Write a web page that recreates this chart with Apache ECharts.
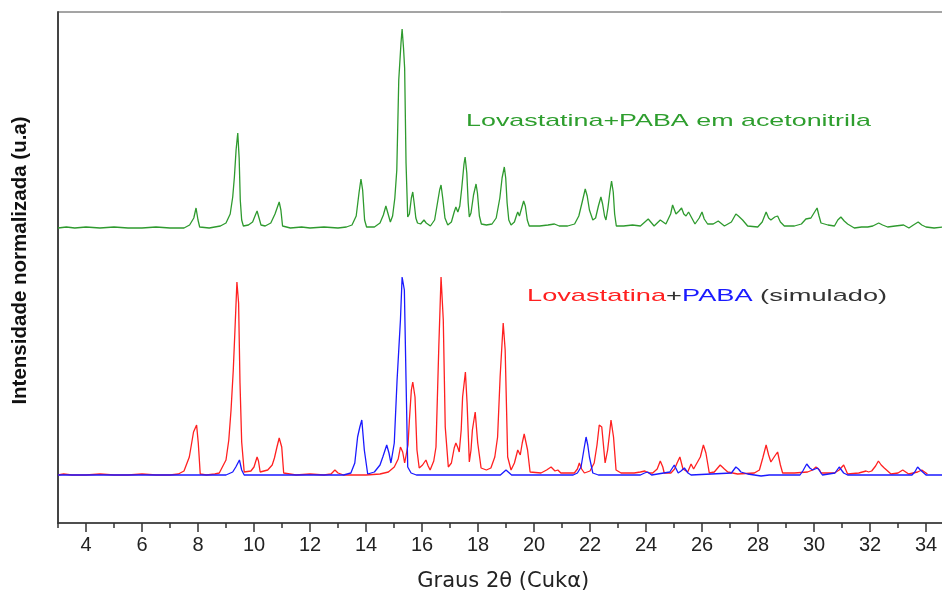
<!DOCTYPE html>
<html>
<head>
<meta charset="utf-8">
<script src="https://cdn.jsdelivr.net/npm/echarts@6/dist/echarts.min.js"></script>
<style>
html,body{margin:0;padding:0;background:#fff;}
#chart{width:942px;height:592px;}
</style>
</head>
<body>
<div id="chart"></div>
<script>
// ---- data (2θ in degrees, intensity in arbitrary normalized units) ----
const expX = [3.0,3.3,3.6,4.0,4.5,5.0,5.5,6.0,6.5,7.0,7.5,7.7,7.85,7.93,8.0,8.06,8.4,8.6,8.8,9.0,9.15,9.24,9.3,9.36,9.42,9.47,9.51,9.56,9.62,9.8,9.95,10.05,10.11,10.17,10.25,10.4,10.6,10.75,10.85,10.9,10.96,11.02,11.3,11.7,12.0,12.5,13.0,13.3,13.5,13.65,13.75,13.82,13.88,13.95,14.02,14.3,14.5,14.62,14.71,14.78,14.87,14.95,15.03,15.1,15.17,15.25,15.29,15.34,15.38,15.43,15.49,15.55,15.62,15.67,15.72,15.78,15.84,15.95,16.07,16.15,16.3,16.45,16.57,16.63,16.68,16.74,16.82,16.92,17.05,17.15,17.21,17.28,17.35,17.42,17.5,17.54,17.6,17.65,17.69,17.75,17.84,17.93,17.98,18.05,18.12,18.3,18.5,18.65,18.78,18.86,18.94,18.99,19.04,19.1,19.18,19.3,19.38,19.42,19.48,19.56,19.63,19.69,19.76,19.83,20.2,20.5,20.73,20.9,21.2,21.45,21.6,21.73,21.83,21.9,21.98,22.1,22.2,22.3,22.39,22.45,22.52,22.57,22.64,22.71,22.77,22.83,22.88,22.94,23.2,23.52,23.8,24.08,24.29,24.51,24.71,24.88,24.95,25.07,25.18,25.27,25.35,25.43,25.52,25.58,25.75,25.9,26.0,26.08,26.2,26.4,26.58,26.8,27.05,27.21,27.3,27.45,27.63,27.99,28.15,28.29,28.38,28.46,28.6,28.7,28.8,28.94,29.3,29.55,29.71,29.89,30.0,30.11,30.18,30.25,30.5,30.73,30.85,30.96,31.08,31.2,31.44,31.7,31.92,32.1,32.31,32.45,32.63,32.9,33.2,33.39,33.55,33.72,33.85,34.0,34.29,34.6,34.8];
const expY = [0,1,0,1,0,1,0,0,1,0,0,3,10,20,8,1,0,1,2,5,14,31,51,78,95,70,28,8,2,3,6,13,17,11,3,2,5,14,22,26,18,2,0,1,0,1,0,1,3,12,35,49,38,8,1,1,5,13,22,15,6,12,30,58,148,185,199,180,160,65,11,14,30,36,25,10,5,4,8,5,2,8,28,38,43,30,10,3,6,16,21,16,22,40,64,71,55,25,11,15,33,44,35,12,4,3,4,10,30,50,61,50,25,8,3,6,13,16,12,20,27,22,8,2,2,3,4,2,2,4,12,27,39,32,18,8,10,22,31,24,12,8,20,36,47,36,14,2,2,3,2,9,2,8,4,14,23,14,17,20,14,12,16,14,4,10,16,9,4,4,7,2,6,14,12,8,2,1,6,16,10,8,11,12,6,2,2,4,9,10,15,20,12,5,3,2,8,11,7,4,0,1,1,2,5,3,1,2,3,0,3,6,3,1,0,1,0];

const lovX = [3.0,3.2,3.5,4.0,4.5,5.0,5.5,6.0,6.5,7.0,7.3,7.5,7.69,7.84,7.95,8.01,8.08,8.3,8.6,8.76,9.0,9.1,9.18,9.26,9.32,9.39,9.45,9.5,9.56,9.65,9.89,10.0,10.11,10.16,10.22,10.49,10.65,10.73,10.82,10.9,10.99,11.06,11.5,12.0,12.5,12.75,12.89,13.0,13.2,14.0,14.5,14.8,15.01,15.15,15.23,15.31,15.38,15.43,15.5,15.55,15.62,15.67,15.75,15.82,15.9,16.02,16.14,16.22,16.29,16.42,16.5,16.6,16.68,16.76,16.83,16.94,17.05,17.15,17.21,17.27,17.33,17.4,17.45,17.55,17.61,17.69,17.75,17.8,17.9,17.99,18.11,18.3,18.46,18.6,18.7,18.79,18.9,18.97,19.06,19.18,19.3,19.42,19.51,19.58,19.65,19.77,19.86,20.25,20.45,20.61,20.75,20.85,20.96,21.44,21.55,21.62,21.7,21.8,22.0,22.15,22.25,22.33,22.42,22.48,22.54,22.63,22.7,22.75,22.84,22.93,23.11,23.58,23.8,23.96,24.1,24.24,24.4,24.51,24.6,24.65,24.89,25.02,25.11,25.21,25.32,25.49,25.61,25.7,25.75,25.94,26.05,26.14,26.26,26.44,26.65,26.8,26.92,27.27,27.87,28.05,28.17,28.29,28.38,28.46,28.6,28.7,28.8,28.88,29.3,29.77,29.95,30.07,30.2,30.25,30.73,30.9,31.06,31.2,31.6,31.86,31.95,32.06,32.2,32.3,32.4,32.51,32.75,33.0,33.17,33.38,33.7,33.85,33.95,34.05];
const lovY = [0,1,0,0,1,0,0,1,0,0,1,4,18,43,50,32,1,0,1,2,15,35,65,105,145,193,172,92,33,3,4,8,18,14,3,5,10,17,28,37,28,2,0,1,0,1,5,2,0,0,1,3,8,16,28,23,12,10,30,55,85,93,78,25,7,10,15,9,5,14,28,128,198,155,48,8,12,27,32,28,23,45,78,103,72,13,25,45,63,32,7,5,7,18,38,98,152,125,18,5,12,25,20,32,41,25,3,2,5,8,4,5,2,2,6,12,6,2,4,12,30,50,48,30,12,25,42,55,38,5,2,2,3,4,2,2,6,14,8,2,2,6,12,18,6,3,11,6,5,18,30,22,2,3,10,6,3,1,2,5,17,30,20,13,19,23,10,2,2,3,5,8,5,2,2,5,10,1,2,4,3,4,9,14,10,7,1,2,5,1,3,5,3,1];

const pabaX = [3.0,4.0,5.0,6.0,7.0,8.0,9.0,9.24,9.35,9.48,9.56,9.65,12.0,13.2,13.46,13.6,13.7,13.78,13.85,13.94,14.06,14.3,14.5,14.6,14.74,14.82,14.89,15.01,15.11,15.17,15.23,15.29,15.37,15.43,15.49,15.61,15.8,18.8,19.0,19.2,21.4,21.55,21.68,21.78,21.86,21.92,21.98,22.1,22.3,23.8,23.95,24.06,24.2,24.85,25.01,25.15,25.25,25.37,25.5,25.61,27.05,27.21,27.3,27.39,27.63,28.11,28.4,29.5,29.6,29.74,29.85,29.95,30.13,30.3,30.75,30.9,31.06,31.2,33.5,33.6,33.7,33.8,33.88,34.0,34.8];
const pabaY = [0,0,0,0,0,0,0,3,8,15,5,0,0,0,2,12,38,48,55,25,1,3,10,18,30,22,12,32,95,125,155,198,185,95,8,2,0,0,5,0,0,2,8,25,38,30,18,2,0,0,2,3,0,3,10,2,4,7,2,0,2,8,6,3,1,-1,0,0,4,11,7,5,7,0,2,8,2,0,0,3,8,5,3,0,0];

// vertical offsets of the two stacked patterns (same intensity units)
const expOffset = 295;
const simOffset = 48;

// axis ticks (2θ)
const majorTicks = [4,6,8,10,12,14,16,18,20,22,24,26,28,30,32,34];
const minorTicks = [3,5,7,9,11,13,15,17,19,21,23,25,27,29,31,33];

const seriesNames = ['Lovastatina+PABA em acetonitrila', 'Lovastatina (simulado)', 'PABA (simulado)'];
const xTitle = 'Graus 2θ (Cukα)';
const yTitle = 'Intensidade normalizada (u.a)';

function build(xs, ys, off) {
  return xs.map((x, i) => [x, ys[i] + off]);
}

const chart = echarts.init(document.getElementById('chart'), null, {renderer: 'canvas'});
const FONT = '"Liberation Sans", Arial, sans-serif';

chart.setOption({
  animation: false,
  backgroundColor: '#ffffff',
  grid: {left: 58, top: 12, width: 890.4, height: 511, outerBoundsMode: 'none', containLabel: false,
         show: true, borderColor: '#4a4a4a', borderWidth: 1, backgroundColor: 'transparent'},
  xAxis: [
    {
      type: 'value', min: 3, max: 34.8, position: 'bottom',
      axisLine: {show: true, lineStyle: {color: '#333', width: 1.5}},
      axisTick: {show: true, customValues: majorTicks, length: 9, lineStyle: {color: '#333', width: 1.5}},
      axisLabel: {show: true, customValues: majorTicks, margin: 12, fontSize: 20, color: '#222', fontFamily: FONT},
      splitLine: {show: false},
      name: xTitle, nameLocation: 'middle', nameGap: 48,
      nameTextStyle: {fontSize: 21, color: '#222', fontFamily: '"DejaVu Sans", sans-serif'}
    },
    {
      type: 'value', min: 3, max: 34.8, position: 'bottom',
      axisLine: {show: false},
      axisTick: {show: true, customValues: minorTicks, length: 5, lineStyle: {color: '#333', width: 1.5}},
      axisLabel: {show: false},
      splitLine: {show: false}
    }
  ],
  yAxis: {
    type: 'value', min: 0, max: 511,
    axisLine: {show: true, lineStyle: {color: '#444', width: 2}},
    axisTick: {show: false}, axisLabel: {show: false}, splitLine: {show: false},
    name: yTitle, nameLocation: 'middle', nameGap: 27, nameRotate: 90,
    nameTextStyle: {fontSize: 20.5, fontWeight: 'bold', color: '#111', fontFamily: FONT, padding: [0, 0, 0, 14]}
  },
  series: [
    {name: seriesNames[0], type: 'line', showSymbol: false, symbol: 'none', data: build(expX, expY, expOffset),
     lineStyle: {color: '#2e9a2e', width: 1.3}, itemStyle: {color: '#2e9a2e'}, z: 2},
    {name: seriesNames[1], type: 'line', showSymbol: false, symbol: 'none', data: build(lovX, lovY, simOffset),
     lineStyle: {color: '#ff2020', width: 1.3}, itemStyle: {color: '#ff2020'}, z: 2},
    {name: seriesNames[2], type: 'line', showSymbol: false, symbol: 'none', data: build(pabaX, pabaY, simOffset),
     lineStyle: {color: '#1a1aff', width: 1.3}, itemStyle: {color: '#1a1aff'}, z: 3}
  ],
  graphic: [
    {type: 'text', x: 466, y: 121, scaleX: 1.58, silent: true,
     style: {text: 'Lovastatina+PABA em acetonitrila', fill: '#2e9e2e', font: '17px ' + FONT, align: 'left', verticalAlign: 'middle'}},
    {type: 'text', x: 527, y: 296, scaleX: 1.6, silent: true,
     style: {text: '{r|Lovastatina}{k|+}{b|PABA}{k| (simulado)}', font: '17px ' + FONT, align: 'left', verticalAlign: 'middle',
       rich: {r: {fill: '#ff2020', font: '17px ' + FONT}, b: {fill: '#1a1aff', font: '17px ' + FONT}, k: {fill: '#333333', font: '17px ' + FONT}}}}
  ]
});
</script>
</body>
</html>
